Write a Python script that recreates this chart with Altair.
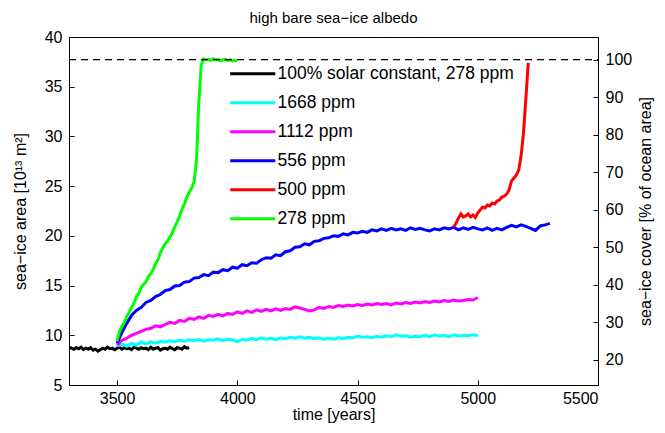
import altair as alt
import pandas as pd

FONT = "Liberation Sans"

labels = ["100% solar constant, 278 ppm", "1668 ppm", "1112 ppm", "556 ppm", "500 ppm", "278 ppm"]
colors = ["#000000", "#00ffff", "#ff00ff", "#0000ff", "#ff0000", "#00ff00"]

black_years = list(range(3300, 3801, 10))
black_vals = [8.8, 8.7, 8.6, 8.75, 8.65, 8.8, 8.55, 8.7, 8.6, 8.75,
              8.5, 8.6, 8.4, 8.55, 8.7, 8.6, 8.8, 8.65, 8.7, 8.55,
              8.7, 8.8, 8.6, 8.75, 8.65, 8.7, 8.55, 8.8, 8.7, 8.6,
              8.75, 8.65, 8.7, 8.55, 8.8, 8.6, 8.7, 8.75, 8.5, 8.65,
              8.7, 8.6, 8.8, 8.65, 8.55, 8.75, 8.7, 8.6, 8.85, 8.7,
              8.75]

cyan_years = list(range(3500, 5001, 20))
cyan_vals = [8.9, 9.1, 8.9, 9.2, 9.0, 9.3, 9.15, 9.35, 9.2, 9.4,
             9.3, 9.45, 9.35, 9.5, 9.4, 9.55, 9.45, 9.6, 9.4, 9.55,
             9.5, 9.65, 9.45, 9.6, 9.55, 9.35, 9.6, 9.5, 9.7, 9.55,
             9.75, 9.6, 9.7, 9.55, 9.75, 9.65, 9.8, 9.7, 9.85, 9.7,
             9.8, 9.65, 9.75, 9.6, 9.7, 9.6, 9.75, 9.65, 9.8, 9.75,
             9.9, 9.8, 9.85, 9.75, 9.9, 9.8, 9.95, 9.85, 10.05, 9.9,
             9.95, 9.8, 9.9, 9.85, 10.0, 9.85, 10.05, 9.9, 10.0, 9.85,
             10.05, 9.9, 10.0, 9.95, 10.05, 9.95]

magenta_years = list(range(3500, 5001, 20))
magenta_vals = [9.0, 9.5, 9.7, 10.0, 10.2, 10.4, 10.6, 10.7, 10.95, 10.85,
                11.1, 11.3, 11.2, 11.5, 11.4, 11.7, 11.6, 11.85, 11.7, 12.0,
                11.9, 12.1, 11.95, 12.2, 12.1, 12.35, 12.2, 12.45, 12.3, 12.55,
                12.4, 12.6, 12.45, 12.65, 12.5, 12.7, 12.6, 12.85, 12.75, 12.6,
                12.45, 12.55, 12.8, 12.7, 12.9, 12.8, 13.0, 12.9, 13.05, 12.95,
                13.1, 13.0, 13.15, 13.05, 13.2, 13.1, 13.2, 13.05, 13.25, 13.15,
                13.3, 13.2, 13.35, 13.25, 13.4, 13.3, 13.45, 13.35, 13.5, 13.4,
                13.55, 13.45, 13.5, 13.6, 13.55, 13.8]

blue_years = list(range(3500, 5301, 20))
blue_vals = [9.2, 10.3, 11.2, 12.0, 12.5, 12.8, 13.3, 13.5, 13.9, 14.1,
             14.5, 14.6, 14.95, 15.0, 15.35, 15.4, 15.75, 15.8, 16.1, 16.0,
             16.35, 16.3, 16.6, 16.5, 16.85, 16.75, 17.1, 17.0, 17.3, 17.25,
             17.6, 17.8, 17.75, 18.1, 18.0, 18.4, 18.5, 18.85, 18.9, 19.2,
             19.1, 19.45, 19.5, 19.75, 19.8, 20.0, 19.95, 20.2, 20.1, 20.35,
             20.3, 20.45, 20.35, 20.6, 20.5, 20.7, 20.55, 20.75, 20.6, 20.7,
             20.55, 20.8, 20.65, 20.75, 20.6, 20.5, 20.7, 20.6, 20.8, 20.7,
             20.85, 20.6, 20.8, 20.65, 20.85, 20.7, 20.6, 20.8, 20.55, 20.75,
             20.6, 20.85, 21.05, 20.9, 21.1, 20.95, 20.75, 20.55, 21.0, 21.1,
             21.25]

red_years = list(range(4900, 5211, 10))
red_vals = [20.9, 21.3, 21.8, 22.2, 21.9, 22.0, 22.2, 21.9, 22.1, 21.85,
            22.3, 22.6, 22.9, 22.8, 23.1, 23.0, 23.3, 23.2, 23.5, 23.6,
            23.9, 24.0, 24.2, 24.6, 25.5, 25.8, 26.1, 26.6, 28.0, 30.3,
            33.8, 37.4]

green_years = list(range(3500, 4001, 10))
green_vals = [9.4, 10.4, 10.9, 11.3, 11.9, 12.3, 12.8, 13.2, 13.9, 14.2,
              14.8, 15.1, 15.4, 15.9, 16.2, 16.6, 17.2, 17.6, 18.3, 18.8,
              19.2, 19.5, 19.9, 20.3, 20.9, 21.4, 22.0, 22.7, 23.2, 23.9,
              24.4, 24.8, 25.4, 27.5, 33.5, 37.2, 37.8, 37.7, 37.75, 37.65,
              37.8, 37.7, 37.75, 37.6, 37.7, 37.75, 37.65, 37.7, 37.6, 37.65,
              37.6]

series = [
    (labels[0], black_years, black_vals),
    (labels[1], cyan_years, cyan_vals),
    (labels[2], magenta_years, magenta_vals),
    (labels[3], blue_years, blue_vals),
    (labels[4], red_years, red_vals),
    (labels[5], green_years, green_vals),
]
rows = []
for name, ys, vs in series:
    assert len(ys) == len(vs), (name, len(ys), len(vs))
    for i, (yr, v) in enumerate(zip(ys, vs)):
        rows.append({"series": name, "year": yr, "area": v, "idx": i})
df = pd.DataFrame(rows)

x_domain = [3300, 5500]
x_ticks = [3500, 4000, 4500, 5000, 5500]
left_domain = [5, 40]
left_ticks = [5, 10, 15, 20, 25, 30, 35, 40]
full_cover = 37.73  # sea-ice area at 100 % cover
right_domain = [left_domain[0] * 100 / full_cover, left_domain[1] * 100 / full_cover]
right_ticks = [20, 30, 40, 50, 60, 70, 80, 90, 100]

ref_df = pd.DataFrame({"x": [x_domain[0]], "x2": [x_domain[1]], "pct": [100]})

x_enc = alt.X("year:Q", scale=alt.Scale(domain=x_domain, nice=False, zero=False),
              axis=alt.Axis(values=x_ticks, format="d", title="time [years]",
                            tickSize=alt.ExprRef("-5"), labelPadding=10, titlePadding=0,
                            grid=False))

lines = alt.Chart(df).mark_line(strokeWidth=3, clip=True).encode(
    x=x_enc,
    y=alt.Y("area:Q", scale=alt.Scale(domain=left_domain, nice=False, zero=False),
            axis=alt.Axis(values=left_ticks, title="sea−ice area [10¹³ m²]",
                          tickSize=alt.ExprRef("-5"), labelPadding=12, titlePadding=16,
                          grid=False)),
    color=alt.Color("series:N", sort=labels,
                    scale=alt.Scale(domain=labels, range=colors),
                    legend=alt.Legend(title=None, orient="none", legendX=175, legendY=28,
                                      symbolType="M-4,0H4", symbolSize=127,
                                      symbolStrokeWidth=3, labelOffset=16,
                                      labelFontSize=17.5, labelFont=FONT, labelLimit=400,
                                      labelColor="black",
                                      rowPadding=10, padding=0, fillColor="transparent")),
    order=alt.Order("idx:Q"),
)

dashed = alt.Chart(ref_df).mark_rule(color="black", strokeDash=[7, 5], strokeWidth=1.2).encode(
    x=alt.X("x:Q", scale=alt.Scale(domain=x_domain, nice=False, zero=False)),
    x2="x2:Q",
    y=alt.Y("pct:Q", scale=alt.Scale(domain=right_domain, nice=False, zero=False),
            axis=alt.Axis(orient="right", values=right_ticks, title="sea−ice cover [% of ocean area]",
                          tickSize=alt.ExprRef("-5"), labelPadding=12, titlePadding=22,
                          titleAngle=270, grid=False)),
)

chart = alt.layer(lines, dashed).resolve_scale(y="independent").properties(
    width=529, height=348,
    autosize=alt.AutoSizeParams(type="none"),
    padding={"left": 61, "top": 29, "right": 59, "bottom": 40},
    background="white",
    title=alt.TitleParams("high bare sea−ice albedo", fontSize=15, font=FONT,
                          fontWeight="normal", anchor="middle", offset=3, color="black"),
).configure_view(stroke="black", strokeWidth=1).configure_axis(
    labelFont=FONT, titleFont=FONT, labelFontSize=16, titleFontSize=16,
    titleFontWeight="normal", labelColor="black", titleColor="black",
    domainColor="black", tickColor="black", domainWidth=1, tickWidth=1,
)

chart.save("out.html", embed_options={"renderer": "svg", "actions": False})
